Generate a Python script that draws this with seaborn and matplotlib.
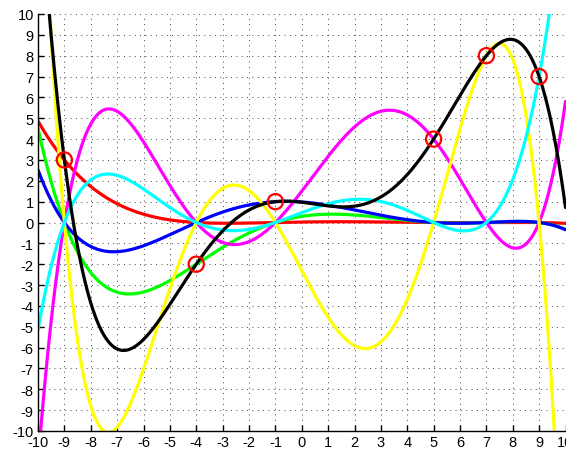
import numpy as np
import pandas as pd
import matplotlib
matplotlib.use("Agg")
import matplotlib.pyplot as plt
import seaborn as sns

# Interpolation nodes (read from the red circles)
node_x = [-9, -4, -1, 5, 7, 9]
node_y = [3, -2, 1, 4, 8, 7]
# colour used for each scaled basis polynomial y_i * L_i(x)
basis_colors = ["#ff0000", "#00ff00", "#0000ff", "#ff00ff", "#ffff00", "#00ffff"]
x_ticks = list(range(-10, 11))
y_ticks = list(range(-10, 11))

sns.set_theme(style="white")
plt.rcParams["font.family"] = ["Liberation Sans", "DejaVu Sans"]

xs = np.linspace(-10, 10, 801)
xn = np.array(node_x, dtype=float)
rows = []
total = np.zeros_like(xs)
for i, (xi, yi) in enumerate(zip(node_x, node_y)):
    L = np.ones_like(xs)
    for j, xj in enumerate(xn):
        if j != i:
            L *= (xs - xj) / (xi - xj)
    curve = yi * L
    total += curve
    rows.append(pd.DataFrame({"x": xs, "y": curve, "curve": f"L{i}"}))
rows.append(pd.DataFrame({"x": xs, "y": total, "curve": "P"}))
df = pd.concat(rows, ignore_index=True)

fig = plt.figure(figsize=(5.66, 4.52), dpi=100)
ax = fig.add_axes([38 / 566, 20 / 452, 527.5 / 566, 417 / 452])

palette = {f"L{i}": c for i, c in enumerate(basis_colors)}
palette["P"] = "#000000"
order = ["L0", "L1", "L2", "L3", "L4", "L5"]
for name in order + ["P"]:
    sns.lineplot(data=df[df["curve"] == name], x="x", y="y", color=palette[name],
                 lw=2.3, ax=ax, legend=False, sort=False, estimator=None)

pts = pd.DataFrame({"x": node_x, "y": node_y})
sns.scatterplot(data=pts, x="x", y="y", ax=ax, s=120, marker="o",
                facecolors="none", edgecolor="#ff0000", linewidth=1.6, zorder=5)

ax.set_xlim(-10, 10)
ax.set_ylim(-10, 10)
ax.set_xticks(x_ticks)
ax.set_yticks(y_ticks)
ax.set_xticklabels([str(t) for t in x_ticks])
ax.set_yticklabels([str(t) for t in y_ticks])
ax.set_xlabel("")
ax.set_ylabel("")
ax.grid(True, color="#444444", linestyle=(0, (1, 4.5)), linewidth=0.7)
ax.set_axisbelow(True)
for s in ["top", "right"]:
    ax.spines[s].set_visible(False)
for s in ["left", "bottom"]:
    ax.spines[s].set_color("black")
    ax.spines[s].set_linewidth(1.0)
ax.tick_params(direction="in", length=4, width=1, colors="black",
               labelsize=10.5, pad=3, bottom=True, left=True)
ax.set_facecolor("white")
fig.savefig("out.png", dpi=100, facecolor="white")
